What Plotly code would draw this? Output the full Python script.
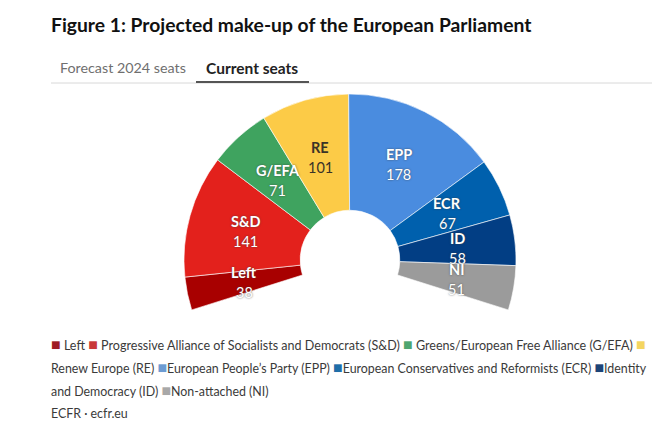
import math
import plotly.graph_objects as go

groups = ["Left", "S&D", "G/EFA", "RE", "EPP", "ECR", "ID", "NI"]
seats = [38, 141, 71, 101, 178, 67, 58, 51]
colors = ["#A80000", "#E3211C", "#3FA35F", "#FCCB47", "#4A8CDF", "#0060AD", "#023E84", "#9B9B9B"]
text_colors = ["#FFFFFF", "#FFFFFF", "#FFFFFF", "#3A3327", "#FFFFFF", "#FFFFFF", "#FFFFFF", "#FFFFFF"]
legend_names = [
    "Left", "Progressive Alliance of Socialists and Democrats (S&D)",
    "Greens/European Free Alliance (G/EFA)", "Renew Europe (RE)",
    "European People’s Party (EPP)", "European Conservatives and Reformists (ECR)",
    "Identity and Democracy (ID)", "Non-attached (NI)",
]
legend_swatches = ["#9E1B22", "#C9383A", "#4FA56F", "#F4D560", "#6C9BD2", "#1F6EA8", "#1D4477", "#A8A8A8"]

W, H = 664, 432
CX, CY, R = 350, 260, 166
HOLE = 0.30
SWEEP = 215
START = 252.5  # clockwise from 12 o'clock

total = sum(seats)
hidden = total * (360 - SWEEP) / SWEEP

FONT = "Lato"
fig = go.Figure(go.Pie(
    labels=groups + ["_"],
    values=seats + [hidden],
    sort=False, direction="clockwise", rotation=START, hole=HOLE,
    marker=dict(colors=colors + ["rgba(0,0,0,0)"],
                line=dict(color=["rgba(255,255,255,0.75)"] * 8 + ["rgba(0,0,0,0)"], width=0.8)),
    textinfo="none", hoverinfo="skip", showlegend=False,
    domain=dict(x=[(CX - R) / W, (CX + R) / W], y=[(H - CY - R) / H, (H - CY + R) / H]),
))

ann = []
def txt(x, y, s, size, color="#333333", anchor="left", shadow=None):
    font = dict(family=FONT, size=size, color=color)
    if shadow:
        font["shadow"] = shadow
    ann.append(dict(x=x / W, y=1 - y / H, xref="paper", yref="paper", text=s, showarrow=False,
                    xanchor=anchor, yanchor="middle", align=anchor, font=font))

txt(49, 25, "<b>Figure 1: Projected make-up of the European Parliament</b>", 19.3, "#111111")
txt(58, 67.5, "Forecast 2024 seats", 14.3, "#6F6F6F")
txt(204, 67.5, "<b>Current seats</b>", 15.5, "#222222")

# value labels placed from the cumulative seat share
cum = 0
for g, v, c in zip(groups, seats, text_colors):
    mid = START + (cum + v / 2) / total * SWEEP
    cum += v
    a = math.radians(mid)
    x = CX + 108 * math.sin(a)
    y = CY - 108 * math.cos(a)
    halo = "0 0 2px rgba(60,60,60,0.8)" if c == "#FFFFFF" else None
    txt(x, y - 9, f"<b>{g}</b>", 14.5, c, "center", halo)
    txt(x, y + 11, str(v), 14.5, c, "center", halo)

def sw(i):
    return f"<span style='color:{legend_swatches[i]};font-size:16px'>■</span>"

LC = "#3A3A3A"
line1 = f"{sw(0)} {legend_names[0]} {sw(1)} {legend_names[1]} {sw(2)} {legend_names[2]} {sw(3)}"
line2 = f"{legend_names[3]} {sw(4)}{legend_names[4]} {sw(5)}{legend_names[5]} {sw(6)}Identity"
line3 = f"and Democracy (ID) {sw(7)}{legend_names[7]}"
txt(49, 343, line1, 12.55, LC)
txt(49, 366, line2, 12.4, LC)
txt(49, 389, line3, 12.4, LC)
txt(49, 413, "ECFR · ecfr.eu", 12.4, LC)

shapes = [
    dict(type="line", xref="paper", yref="paper", x0=51 / W, x1=652 / W, y0=1 - 83 / H, y1=1 - 83 / H,
         line=dict(color="#D8D8D8", width=1)),
    dict(type="line", xref="paper", yref="paper", x0=196 / W, x1=309 / W, y0=1 - 82 / H, y1=1 - 82 / H,
         line=dict(color="#555555", width=2)),
]

fig.update_layout(width=W, height=H, margin=dict(l=0, r=0, t=0, b=0),
                  paper_bgcolor="white", plot_bgcolor="white",
                  annotations=ann, shapes=shapes)
fig.write_html("out.html", config=dict(displayModeBar=False),
               post_script="document.body.style.margin='0';document.body.style.overflow='hidden';")
